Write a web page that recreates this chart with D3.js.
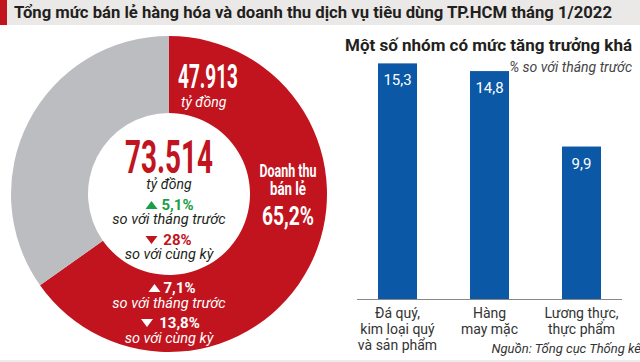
<!DOCTYPE html>
<html><head><meta charset="utf-8">
<script src="https://cdn.jsdelivr.net/npm/d3@7"></script>
<style>body{margin:0;background:#fff}svg{display:block}text{font-family:Roboto,"Liberation Sans",sans-serif}</style>
</head><body>
<div id="chart"></div>
<script>
const title = "Tổng mức bán lẻ hàng hóa và doanh thu dịch vụ tiêu dùng TP.HCM tháng 1/2022";
const donutLabels = ["Doanh thu bán lẻ", "Dịch vụ khác"];
const donutShares = [65.2, 34.8];
const totalValue = "73.514";
const retailValue = "47.913";
const totalChanges = [{dir:"up", v:"5,1%", t:"so với tháng trước"}, {dir:"down", v:"28%", t:"so với cùng kỳ"}];
const retailChanges = [{dir:"up", v:"7,1%", t:"so với tháng trước"}, {dir:"down", v:"13,8%", t:"so với cùng kỳ"}];
const barTitle = "Một số nhóm có mức tăng trưởng khá";
const barSubtitle = "% so với tháng trước";
const categories = [["Đá quý,","kim loại quý","và sản phẩm"],["Hàng","may mặc"],["Lương thực,","thực phẩm"]];
const barValues = [15.3, 14.8, 9.9];
const barLabels = ["15,3", "14,8", "9,9"];
const source = "Nguồn: Tổng cục Thống kê";

const W = 640, H = 362;
const RED = "#c1141e", GRAY = "#bcbdc0", BLUE = "#0b58a6", GREEN = "#1a9e46", DARK = "#231f20";
const svg = d3.select("#chart").append("svg").attr("width", W).attr("height", H);

// header
svg.append("rect").attr("x",0).attr("y",0).attr("width",W).attr("height",25).attr("fill","#ebe9e7");
svg.append("rect").attr("x",0).attr("y",0).attr("width",7).attr("height",25).attr("fill",RED);
svg.append("text").attr("x",14).attr("y",18).attr("font-size",16).attr("font-weight",700)
  .attr("fill",DARK).attr("textLength",598).attr("lengthAdjust","spacingAndGlyphs").text(title);
svg.append("rect").attr("x",0).attr("y",360).attr("width",W).attr("height",2).attr("fill","#ebebeb");

// donut
const cx = 169, cy = 194;
const pie = d3.pie().sort(null).value(d => d);
const arc = d3.arc().innerRadius(81).outerRadius(158);
const g = svg.append("g").attr("transform", `translate(${cx},${cy})`);
g.selectAll("path").data(pie(donutShares)).join("path")
  .attr("d", arc).attr("fill", (d,i) => i === 0 ? RED : GRAY);

function txt(parent, x, y, s, opts) {
  const t = parent.append("text").attr("x", x).attr("y", y).text(s)
    .attr("font-size", opts.size).attr("fill", opts.fill)
    .attr("text-anchor", opts.anchor || "middle")
    .attr("font-weight", opts.bold ? 700 : 400)
    .attr("font-style", opts.italic ? "italic" : "normal");
  if (opts.len) t.attr("textLength", opts.len).attr("lengthAdjust", "spacingAndGlyphs");
  return t;
}
function tri(parent, x, y, dir, fill) {
  const p = dir === "up" ? [[x-6,y+4],[x+6,y+4],[x,y-4]] : [[x-6,y-4],[x+6,y-4],[x,y+4]];
  parent.append("path").attr("d", d3.line()(p) + "Z").attr("fill", fill);
}

// retail segment labels
txt(svg, 178, 88, retailValue, {size:33, fill:"#fff", bold:true, anchor:"start", len:60});
txt(svg, 181, 107, "tỷ đồng", {size:14, fill:"#fff", italic:true, anchor:"start"});
txt(svg, 288, 177, "Doanh thu", {size:18, fill:"#fff", bold:true, len:57});
txt(svg, 288, 195, "bán lẻ", {size:18, fill:"#fff", bold:true, len:36});
txt(svg, 288, 225, donutShares[0].toString().replace(".", ",") + "%", {size:26, fill:"#fff", bold:true, len:52});

// center
txt(svg, cx, 173, totalValue, {size:46, fill:RED, bold:true, len:88});
txt(svg, cx, 189, "tỷ đồng", {size:14, fill:DARK, italic:true});
const cCol = [GREEN, RED];
totalChanges.forEach((c, i) => {
  const yy = 210 + i * 35;
  txt(svg, 177.5, yy, c.v, {size:15, fill:cCol[i], bold:true});
  tri(svg, 151.5, yy - 5, c.dir, cCol[i]);
  txt(svg, cx, yy + 14, c.t, {size:14.5, fill:DARK, italic:true});
});
const rTri = [154.5, 147];
retailChanges.forEach((c, i) => {
  const yy = 293 + i * 35;
  txt(svg, 179.5, yy, c.v, {size:15, fill:"#fff", bold:true});
  tri(svg, rTri[i], yy - 5, c.dir, "#fff");
  txt(svg, cx, yy + 15, c.t, {size:14.5, fill:"#fff", italic:true});
});

// bar chart
txt(svg, 345, 51, barTitle, {size:16, fill:DARK, bold:true, anchor:"start", len:287});
txt(svg, 632, 72, barSubtitle, {size:14, fill:"#444", italic:true, anchor:"end"});
const x = d3.scaleBand().domain(d3.range(categories.length)).range([351.5, 627.5]).paddingInner(0.576).paddingOuter(0.288);
const y = d3.scaleLinear().domain([0, 16]).range([299, 52.6]);
svg.selectAll("rect.bar").data(barValues).join("rect").attr("class","bar")
  .attr("x", (d,i) => x(i)).attr("y", d => y(d)).attr("width", x.bandwidth())
  .attr("height", d => y(0) - y(d)).attr("fill", BLUE);
svg.selectAll("text.val").data(barValues).join("text").attr("class","val")
  .attr("x", (d,i) => x(i) + x.bandwidth()/2).attr("y", d => y(d) + 22)
  .attr("text-anchor","middle").attr("font-size",15).attr("fill","#fff")
  .text((d,i) => barLabels[i]);
svg.append("line").attr("x1",357).attr("x2",622).attr("y1",299.5).attr("y2",299.5)
  .attr("stroke","#888").attr("stroke-width",1);
categories.forEach((lines, i) => {
  lines.forEach((l, j) => {
    txt(svg, x(i) + x.bandwidth()/2, 318 + j * 16, l, {size:14, fill:"#333"});
  });
});
txt(svg, 641, 353, source, {size:13, fill:"#333", italic:true, anchor:"end"});
</script>
</body></html>
